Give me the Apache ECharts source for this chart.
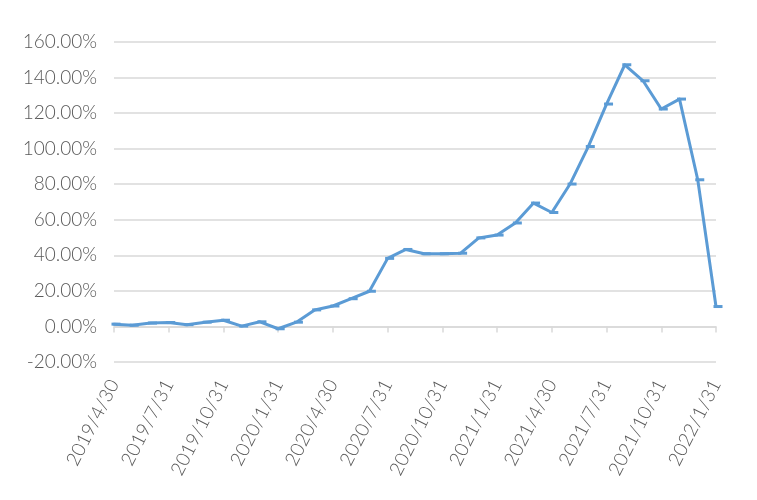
<!DOCTYPE html>
<html>
<head>
<meta charset="utf-8">
<script src="https://cdn.jsdelivr.net/npm/echarts@6/dist/echarts.min.js"></script>
<style>
html,body{margin:0;padding:0;background:#fff;}
#chart{width:757px;height:500px;}
</style>
</head>
<body>
<div id="chart"></div>
<script>
var categories = [
  '2019/4/30','2019/5/31','2019/6/30','2019/7/31','2019/8/31','2019/9/30',
  '2019/10/31','2019/11/30','2019/12/31','2020/1/31','2020/2/29','2020/3/31',
  '2020/4/30','2020/5/31','2020/6/30','2020/7/31','2020/8/31','2020/9/30',
  '2020/10/31','2020/11/30','2020/12/31','2021/1/31','2021/2/28','2021/3/31',
  '2021/4/30','2021/5/31','2021/6/30','2021/7/31','2021/8/31','2021/9/30',
  '2021/10/31','2021/11/30','2021/12/31','2022/1/31'
];
var values = [
  1.3, 0.7, 1.9, 2.2, 1.0, 2.4,
  3.5, 0.2, 2.6, -1.3, 2.4, 9.3,
  11.5, 15.6, 19.8, 38.3, 43.3, 40.9,
  40.9, 41.2, 49.8, 51.4, 58.2, 69.4,
  64.1, 80.1, 101.2, 125.1, 147.2, 138.2,
  122.3, 127.9, 82.5, 11.2
];
var yMin = -20, yMax = 160, yStep = 20;

var chart = echarts.init(document.getElementById('chart'), null, {renderer:'canvas'});
chart.setOption({
  animation: false,
  backgroundColor: '#ffffff',
  grid: {left: 114, right: 41, top: 42, bottom: 138},
  xAxis: [{
    type: 'category',
    data: categories,
    boundaryGap: false,
    position: 'bottom',
    axisLine: {show: false, onZero: false},
    axisTick: {show: false},
    splitLine: {show: false},
    axisLabel: {
      interval: 2,
      rotate: 63,
      margin: 19,
      padding: [18, 0, 0, 0],
      color: '#595959',
      fontFamily: 'Lato',
      fontWeight: 300,
      fontSize: 19
    }
  }, {
    type: 'category',
    data: categories,
    boundaryGap: false,
    position: 'bottom',
    axisLine: {show: true, onZero: true, lineStyle: {color: '#D9D9D9', width: 1.5}},
    axisTick: {show: true, interval: 2, length: 6, lineStyle: {color: '#D9D9D9', width: 1.5}},
    axisLabel: {show: false},
    splitLine: {show: false}
  }],
  yAxis: {
    type: 'value',
    min: yMin, max: yMax, interval: yStep,
    axisLine: {show: false},
    axisTick: {show: false},
    splitLine: {lineStyle: {color: '#D9D9D9', width: 1.5}},
    axisLabel: {
      formatter: function (v) { return v.toFixed(2) + '%'; },
      color: '#595959',
      fontFamily: 'Lato',
      fontWeight: 300,
      fontSize: 19,
      margin: 17,
      padding: [6, 0, 0, 0]
    }
  },
  series: [{
    type: 'line',
    xAxisIndex: 0,
    data: values,
    showAllSymbol: true,
    symbol: 'rect',
    symbolSize: [9, 3],
    symbolOffset: [2, 0],
    lineStyle: {color: '#5B9BD5', width: 3, join: 'round', cap: 'round'},
    itemStyle: {color: '#5B9BD5'},
    z: 3
  }]
});
</script>
</body>
</html>
